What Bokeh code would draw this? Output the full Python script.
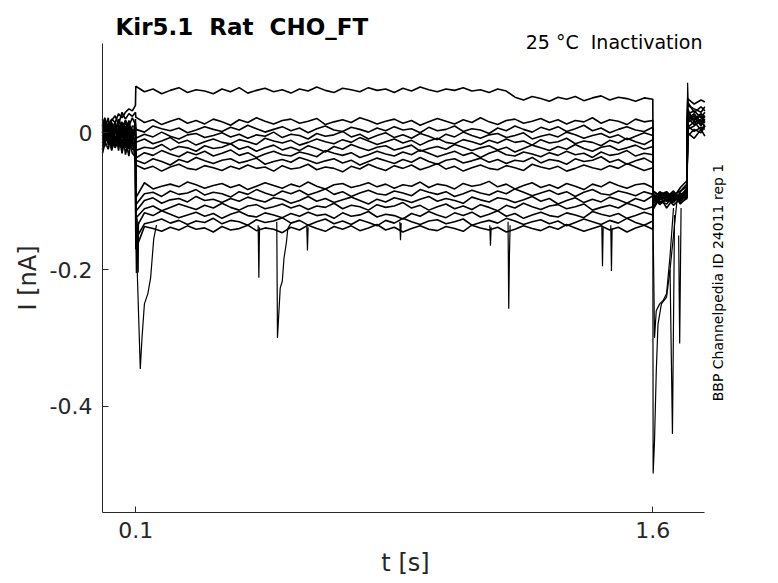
from bokeh.plotting import figure
from bokeh.models import Range1d, FixedTicker, Label
from bokeh.embed import file_html
from bokeh.resources import INLINE

# ---- time bases (s) ----
T_PRE = [0.0034, 0.01, 0.02, 0.03, 0.04, 0.05, 0.06, 0.07, 0.08, 0.09, 0.099]
T_STEP = [0.100, 0.125, 0.150, 0.175, 0.200, 0.225, 0.250, 0.275, 0.300, 0.325,
          0.350, 0.375, 0.400, 0.425, 0.450, 0.475, 0.500, 0.525, 0.550, 0.575,
          0.600, 0.625, 0.650, 0.675, 0.700, 0.725, 0.750, 0.775, 0.800, 0.825,
          0.850, 0.875, 0.900, 0.925, 0.950, 0.975, 1.000, 1.025, 1.050, 1.075,
          1.100, 1.125, 1.150, 1.175, 1.200, 1.225, 1.250, 1.275, 1.300, 1.325,
          1.350, 1.375, 1.400, 1.425, 1.450, 1.475, 1.500, 1.525, 1.550, 1.575,
          1.600]
T_POST = [1.601, 1.62, 1.64, 1.66, 1.68, 1.699, 1.701, 1.72, 1.74, 1.751]

# ---- current sweeps (pA): pre-pulse, step (0.1-1.6 s), tail ----
PRE_01 = [5, -8, 12, 20, 15, 28, 22, 30, 35, 32, 40]
STEP_01 = [68, 60, 64, 57, 62, 66, 59, 63, 61, 57,
           64, 60, 66, 58, 62, 65, 60, 63, 58, 64,
           61, 67, 62, 59, 65, 63, 60, 66, 62, 64,
           59, 65, 61, 67, 63, 60, 64, 62, 66, 61,
           63, 59, 64, 61, 52, 48, 53, 50, 46, 52,
           49, 53, 47, 51, 54, 48, 52, 50, 46, 51,
           49]
POST_01 = [-85, -92, -88, -95, -80, -70, 45, 30, 38, 32]

PRE_02 = [10, 22, 5, 18, 25, 12, 30, 20, 28, 24, 30]
STEP_02 = [23, 15, 19, 12, 17, 21, 14, 18, 13, 20,
           16, 11, 19, 15, 22, 17, 13, 18, 20, 14,
           17, 21, 12, 16, 19, 15, 22, 18, 13, 17,
           20, 14, 18, 11, 16, 21, 17, 13, 19, 15,
           22, 16, 12, 18, 20, 14, 17, 21, 15, 19,
           13, 18, 16, 22, 14, 19, 17, 12, 20, 16,
           18]
POST_02 = [-95, -88, -100, -90, -85, -75, 25, 20, 28, 22]

PRE_03 = [0, 12, -8, 15, 2, 20, 8, 18, 10, 22, 12]
STEP_03 = [5, 1, 10, 6, 3, 7, 0, 4, 9, 5,
           2, 8, 4, 11, 6, 1, 5, 9, 3, 7,
           0, 6, 10, 4, 2, 8, 5, 1, 7, 3,
           9, 4, 6, 0, 8, 3, 5, 10, 2, 6,
           4, -1, 7, 3, 10, 5, 1, 8, 4, 9,
           2, 6, 11, 3, 7, 0, 5, 9, 4, 2,
           8]
POST_03 = [-100, -95, -90, -98, -92, -82, 15, 22, 12, 18]

PRE_04 = [-10, 4, 10, -12, 6, -2, 14, 0, -6, 10, 8]
STEP_04 = [-8, -2, -6, 1, -5, -9, -3, -1, -7, -4,
           0, -6, -2, -8, -3, -5, 1, -7, -2, -4,
           -9, -1, -5, -3, 2, -6, -2, -9, -4, 0,
           -7, -3, -8, -1, -5, -10, -2, -6, 1, -4,
           -8, -3, -1, -7, -4, 0, -9, -5, -2, -6,
           1, -3, -8, -4, -1, -7, -3, -10, -5, 0,
           -4]
POST_04 = [-90, -105, -95, -88, -94, -86, 35, 15, 20, 25]

PRE_05 = [15, -2, -6, 8, -14, 10, -4, 6, 12, -8, -8]
STEP_05 = [-14, -9, -16, -12, -7, -15, -11, -18, -13, -9,
           -14, -16, -10, -13, -17, -8, -12, -15, -11, -18,
           -14, -9, -13, -16, -10, -14, -7, -12, -17, -13,
           -9, -15, -11, -18, -12, -8, -14, -16, -10, -13,
           -17, -11, -15, -9, -14, -12, -18, -10, -15, -13,
           -8, -16, -12, -14, -19, -11, -15, -8, -13, -17,
           -10]
POST_05 = [-110, -92, -98, -102, -90, -88, 5, 10, 18, 8]

PRE_06 = [-20, -6, 2, -10, 12, -18, 4, -12, 8, -4, -15]
STEP_06 = [-26, -21, -23, -17, -25, -20, -22, -27, -19, -23,
           -21, -16, -24, -20, -27, -22, -18, -25, -21, -26,
           -19, -23, -28, -20, -24, -17, -22, -26, -21, -19,
           -25, -22, -18, -27, -23, -20, -24, -17, -21, -26,
           -22, -19, -25, -21, -28, -23, -18, -22, -26, -20,
           -24, -17, -23, -27, -21, -19, -25, -22, -18, -24,
           -20]
POST_06 = [-88, -98, -94, -85, -100, -92, 20, 28, 15, 24]

PRE_07 = [8, -14, 0, -22, 4, -8, -16, 10, -24, 2, 0]
STEP_07 = [-37, -29, -33, -26, -31, -35, -28, -32, -27, -34,
           -30, -25, -33, -29, -36, -31, -27, -32, -34, -28,
           -31, -35, -26, -30, -33, -29, -36, -32, -27, -31,
           -34, -28, -32, -25, -30, -35, -31, -27, -33, -29,
           -36, -30, -26, -32, -34, -28, -31, -35, -29, -33,
           -27, -32, -30, -36, -28, -33, -31, -26, -34, -30,
           -32]
POST_07 = [-105, -90, -86, -96, -88, -95, -5, 5, 0, 10]

PRE_08 = [-5, 14, -18, 6, -10, 0, -28, -6, 4, -14, -20]
STEP_08 = [-40, -45, -38, -42, -47, -39, -43, -36, -41, -45,
           -40, -38, -44, -41, -37, -46, -42, -39, -43, -36,
           -40, -45, -41, -38, -44, -40, -47, -42, -37, -41,
           -45, -39, -43, -36, -42, -46, -40, -38, -44, -41,
           -37, -43, -39, -45, -40, -42, -36, -44, -39, -41,
           -46, -38, -42, -40, -35, -43, -39, -46, -41, -37,
           -44]
POST_08 = [-92, -100, -104, -92, -98, -84, 30, 18, 25, 15]

PRE_09 = [2, -12, -24, 0, 10, -20, 12, -32, -8, -20, -10]
STEP_09 = [-47, -53, -49, -56, -50, -46, -52, -54, -48, -51,
           -55, -49, -53, -47, -52, -50, -56, -48, -53, -51,
           -46, -54, -50, -52, -57, -49, -53, -46, -51, -55,
           -48, -52, -47, -54, -50, -45, -53, -49, -56, -51,
           -47, -52, -54, -48, -51, -55, -46, -50, -53, -49,
           -56, -52, -47, -51, -54, -48, -52, -45, -50, -55,
           -51]
POST_09 = [-98, -86, -92, -100, -94, -90, 10, 2, 8, 5]

PRE_10 = [-15, 6, -4, -26, -8, 4, -14, -2, -10, -30, -35]
STEP_10 = [-95, -73, -82, -78, -75, -79, -72, -76, -81, -77,
           -74, -80, -76, -83, -78, -73, -77, -81, -75, -79,
           -72, -78, -82, -76, -74, -80, -77, -73, -79, -75,
           -81, -76, -78, -72, -80, -75, -77, -82, -74, -78,
           -76, -71, -79, -75, -82, -77, -73, -80, -76, -81,
           -74, -78, -83, -75, -79, -72, -77, -81, -76, -74,
           -80]
POST_10 = [-112, -95, -88, -94, -102, -96, 40, 35, 30, 38]

PRE_11 = [12, -20, 8, -8, -22, -12, 2, -18, 18, -6, -45]
STEP_11 = [-105, -89, -87, -93, -85, -90, -88, -83, -91, -87,
           -89, -94, -86, -90, -83, -88, -92, -85, -89, -84,
           -91, -87, -82, -90, -86, -93, -88, -84, -89, -91,
           -85, -88, -92, -83, -87, -90, -86, -93, -89, -84,
           -88, -91, -85, -89, -82, -87, -92, -88, -84, -90,
           -86, -93, -87, -83, -89, -91, -85, -88, -92, -86,
           -90]
POST_11 = [-94, -104, -98, -90, -86, -78, 18, 25, 10, 20]

PRE_12 = [-25, 0, -14, 4, 16, -4, -24, 6, -16, -2, 5]
STEP_12 = [-115, -99, -95, -103, -98, -96, -101, -93, -99, -97,
           -102, -96, -100, -94, -98, -101, -95, -97, -103, -99,
           -93, -100, -96, -102, -98, -94, -99, -104, -97, -101,
           -95, -98, -102, -97, -93, -100, -96, -99, -103, -94,
           -98, -101, -95, -97, -102, -98, -93, -100, -96, -104,
           -99, -95, -102, -97, -101, -94, -98, -103, -96, -100,
           -92]
POST_12 = [-86, -92, -110, -96, -92, -88, 50, 42, 48, 45]

PRE_13 = [0, 18, -10, -16, 2, 14, -8, 18, -4, -24, -25]
STEP_13 = [-125, -111, -107, -114, -109, -104, -108, -112, -106, -110,
           -103, -109, -113, -107, -105, -111, -108, -104, -110, -106,
           -112, -107, -109, -103, -111, -106, -108, -113, -105, -109,
           -107, -102, -110, -106, -113, -108, -104, -111, -107, -112,
           -105, -109, -114, -106, -110, -103, -108, -112, -107, -105,
           -111, -108, -104, -113, -109, -106, -110, -103, -107, -112,
           -108]
POST_13 = [-100, -88, -94, -106, -96, -80, 0, -8, 5, -5]

PRE_14 = [20, -10, 14, -4, -18, 6, -30, 2, 12, -12, 15]
STEP_14 = [-140, -117, -121, -114, -119, -124, -120, -116, -122, -118,
           -125, -119, -115, -121, -123, -117, -120, -124, -118, -122,
           -116, -121, -119, -125, -117, -122, -120, -115, -123, -119,
           -121, -126, -118, -122, -115, -120, -124, -117, -121, -116,
           -123, -119, -114, -122, -118, -125, -120, -116, -121, -123,
           -117, -120, -124, -115, -119, -122, -118, -125, -121, -116,
           -120]
POST_14 = [-108, -98, -92, -88, -104, -94, 22, 12, 18, 14]

PRE_15 = [-8, 4, 22, -14, 8, -26, 10, -10, -34, 6, -5]
STEP_15 = [-155, -133, -130, -126, -132, -128, -134, -129, -131, -125,
           -133, -128, -130, -135, -127, -131, -129, -124, -132, -128,
           -135, -130, -126, -133, -129, -134, -127, -131, -136, -128,
           -132, -125, -130, -134, -129, -127, -133, -130, -126, -135,
           -131, -128, -132, -125, -129, -134, -130, -127, -133, -129,
           -136, -131, -126, -130, -134, -128, -132, -125, -131, -135,
           -129]
POST_15 = [-90, -102, -96, -100, -90, -86, 8, 16, 4, 12]

PRE_16 = [-30, -16, 6, 12, -20, 0, 16, -22, 2, -16, 20]
STEP_16 = [-170, -137, -140, -144, -138, -142, -136, -141, -139, -145,
           -137, -142, -140, -135, -143, -139, -141, -146, -138, -142,
           -135, -140, -144, -137, -141, -136, -143, -139, -134, -142,
           -138, -145, -140, -136, -141, -143, -137, -140, -144, -135,
           -139, -142, -138, -145, -141, -136, -140, -143, -137, -141,
           -134, -139, -144, -140, -136, -142, -138, -145, -139, -135,
           -141]
POST_16 = [-96, -90, -100, -94, -98, -90, 28, 32, 22, 30]

# ---- transient spikes (time s, current pA) ----
SPIKE_T = [
    [0.100, 0.1015, 0.103, 0.105],
    [0.101, 0.1025, 0.104, 0.107, 0.108],
    [0.100, 0.113, 0.118, 0.125, 0.135, 0.143, 0.152, 0.160],
    [0.455, 0.457, 0.459],
    [0.509, 0.511, 0.519, 0.525, 0.530, 0.537, 0.541, 0.550],
    [0.596, 0.598, 0.600],
    [0.866, 0.868, 0.870],
    [1.127, 1.129, 1.131],
    [1.180, 1.182, 1.184, 1.186],
    [1.452, 1.454, 1.456],
    [1.478, 1.480, 1.482],
    [1.600, 1.601, 1.605, 1.610, 1.615, 1.625, 1.640, 1.650, 1.660, 1.670],
    [1.600, 1.605, 1.610, 1.620, 1.630, 1.640, 1.650, 1.660],
    [1.650, 1.657, 1.663],
    [1.675, 1.678, 1.682],
    [1.699, 1.701, 1.703],
]
SPIKE_I = [
    [-130, -205, -150, -135],
    [-120, -200, -125, -204, -130],
    [-135, -345, -300, -250, -235, -212, -155, -135],
    [-135, -212, -138],
    [-130, -300, -227, -217, -183, -160, -140, -132],
    [-135, -172, -138],
    [-130, -157, -132],
    [-135, -165, -138],
    [-130, -257, -180, -135],
    [-135, -195, -138],
    [-135, -202, -140],
    [-100, -498, -450, -350, -280, -250, -240, -200, -150, -100],
    [-100, -300, -260, -250, -245, -235, -180, -110],
    [-200, -440, -120],
    [-150, -308, -110],
    [-80, 73, 40],
]

X_TICKS = [0.1, 1.6]
X_TICK_LABELS = ["0.1", "1.6"]
Y_TICKS = [-0.4, -0.2, 0]
Y_TICK_LABELS = ["-0.4", "-0.2", "0"]

TITLE = "Kir5.1 \u00a0Rat \u00a0CHO_FT"
SUBTITLE = "25 °C \u00a0Inactivation"
SIDE_NOTE = "BBP Channelpedia ID 24011 rep 1"
X_LABEL = "t [s]"
Y_LABEL = "I [nA]"

FONT = "DejaVu Sans"
AX = "#262626"

T_ALL = T_PRE + T_STEP + T_POST
SWEEPS = [
    PRE_01 + STEP_01 + POST_01, PRE_02 + STEP_02 + POST_02, PRE_03 + STEP_03 + POST_03,
    PRE_04 + STEP_04 + POST_04, PRE_05 + STEP_05 + POST_05, PRE_06 + STEP_06 + POST_06,
    PRE_07 + STEP_07 + POST_07, PRE_08 + STEP_08 + POST_08, PRE_09 + STEP_09 + POST_09,
    PRE_10 + STEP_10 + POST_10, PRE_11 + STEP_11 + POST_11, PRE_12 + STEP_12 + POST_12,
    PRE_13 + STEP_13 + POST_13, PRE_14 + STEP_14 + POST_14, PRE_15 + STEP_15 + POST_15,
    PRE_16 + STEP_16 + POST_16,
]

X_START, X_END = 0.0034, 1.751      # drawn axis extent
Y_START, Y_END = -0.55491, 0.1305

# the frame fills the whole canvas; axes sit at fixed data positions
p = figure(width=776, height=581, output_backend="svg", toolbar_location=None,
           x_range=Range1d(-0.29255, 1.95888), y_range=Range1d(-0.65576, 0.19335),
           min_border=0)
p.outline_line_color = None
p.grid.visible = False
p.background_fill_color = "white"
p.border_fill_color = "white"

for sw in SWEEPS:
    p.line(T_ALL, [v / 1000.0 for v in sw], line_color="black", line_width=1.6)
for ts, vs in zip(SPIKE_T, SPIKE_I):
    p.line(ts, [v / 1000.0 for v in vs], line_color="black", line_width=1.2)

for ax in (p.xaxis[0], p.yaxis[0]):
    ax.axis_line_color = AX
    ax.axis_line_width = 1
    ax.major_tick_line_color = AX
    ax.major_tick_in = 6
    ax.major_tick_out = 0
    ax.minor_tick_line_color = None
    ax.major_label_text_font = FONT
    ax.major_label_text_font_size = "22px"
    ax.major_label_text_color = AX
    ax.major_label_standoff = 10

p.xaxis.fixed_location = Y_START
p.xaxis.bounds = (X_START, X_END)
p.xaxis.ticker = FixedTicker(ticks=X_TICKS)
p.xaxis.major_label_overrides = dict(zip(X_TICKS, X_TICK_LABELS))
p.yaxis.fixed_location = X_START
p.yaxis.bounds = (Y_START, Y_END)
p.yaxis.ticker = FixedTicker(ticks=Y_TICKS)
p.yaxis.major_label_overrides = dict(zip(Y_TICKS, Y_TICK_LABELS))

p.add_layout(Label(x=0.8825, y=-0.6280, text=X_LABEL, text_font=FONT, text_font_size="24px",
                   text_color=AX, text_baseline="middle", text_align="center"))
p.add_layout(Label(x=-0.2128, y=-0.2122, text=Y_LABEL, text_font=FONT, text_font_size="24px",
                   text_color=AX, text_baseline="middle", text_align="center",
                   angle=1.5707963))
p.add_layout(Label(x=0.0411, y=0.1543, text=TITLE, text_font=FONT, text_font_size="23px",
                   text_font_style="bold", text_color="black", text_baseline="alphabetic",
                   text_align="left"))
p.add_layout(Label(x=1.7442, y=0.132, text=SUBTITLE, text_font=FONT, text_font_size="19px",
                   text_color="black", text_baseline="middle", text_align="right"))
p.add_layout(Label(x=1.7892, y=-0.2188, text=SIDE_NOTE, text_font=FONT, text_font_size="14px",
                   text_color="black", text_baseline="middle", text_align="center",
                   angle=1.5707963))

open("out.html", "w").write(file_html(p, INLINE))
